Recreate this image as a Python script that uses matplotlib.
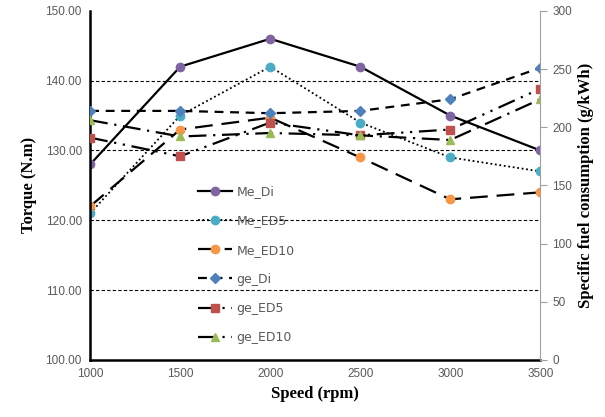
import matplotlib
matplotlib.use('Agg')
import matplotlib.pyplot as plt
import numpy as np

speed = [1000, 1500, 2000, 2500, 3000, 3500]

# torque (N.m), left axis
me_di = [128.0, 142.0, 146.0, 142.0, 135.0, 130.0]
me_ed5 = [121.0, 135.0, 142.0, 134.0, 129.0, 127.0]
me_ed10 = [122.0, 133.0, 134.7, 129.0, 123.0, 124.0]

# specific fuel consumption (g/kWh), right axis
ge_di = [214, 214, 212, 214, 224, 251]
ge_ed5 = [191, 175, 204, 193, 198, 233]
ge_ed10 = [206, 192, 195, 193, 189, 224]

tick_col = '#595959'
serif = 'Liberation Serif'

fig = plt.figure(figsize=(6.05, 4.17), dpi=100)
ax = fig.add_axes([0.149, 0.137, 0.744, 0.837])
ax2 = ax.twinx()

lw = 1.6
ms = 6
h1, = ax.plot(speed, me_di, color='black', lw=lw, marker='o', ms=ms,
              mfc='#8064A2', mec='#8064A2', label='Me_Di')
h2, = ax.plot(speed, me_ed5, color='black', lw=1.3, ls=(0, (1, 1.5)), marker='o', ms=ms,
              mfc='#4BACC6', mec='#4BACC6', label='Me_ED5')
h3, = ax.plot(speed, me_ed10, color='black', lw=lw, ls=(0, (8, 4)), marker='o', ms=ms,
              mfc='#F79646', mec='#F79646', label='Me_ED10')

h4, = ax2.plot(speed, ge_di, color='black', lw=lw, ls=(0, (4, 3)), marker='D', ms=5,
               mfc='#4F81BD', mec='#4F81BD', label='ge_Di')
h5, = ax2.plot(speed, ge_ed5, color='black', lw=lw, ls=(0, (8, 3, 1, 3, 1, 3)), marker='s', ms=ms,
               mfc='#C0504D', mec='#C0504D', label='ge_ED5')
h6, = ax2.plot(speed, ge_ed10, color='black', lw=lw, ls=(0, (8, 3, 1, 3)), marker='^', ms=ms,
               mfc='#9BBB59', mec='#9BBB59', label='ge_ED10')

ax.set_xlim(1000, 3500)
ax.set_ylim(100, 150)
ax2.set_ylim(0, 300)
ax.set_xticks(speed)
ax.set_yticks(np.arange(100, 151, 10))
ax.set_yticklabels(['%.2f' % v for v in np.arange(100, 151, 10)])
ax2.set_yticks(np.arange(0, 301, 50))

for y in [110, 120, 130, 140]:
    ax.axhline(y, color='black', ls=(0, (3, 2)), lw=0.8, zorder=0)

for a in (ax, ax2):
    a.tick_params(labelsize=8.5, colors=tick_col, labelcolor=tick_col)
    for lab in a.get_xticklabels() + a.get_yticklabels():
        lab.set_fontfamily('Liberation Sans')
ax.tick_params(axis='y', length=0, pad=6)
ax.tick_params(axis='x', length=0, pad=6)
ax2.tick_params(axis='y', length=5, direction='out', color='#a0a0a0')

ax.spines['top'].set_visible(False)
ax2.spines['top'].set_visible(False)
ax.spines['left'].set_linewidth(1.8)
ax.spines['bottom'].set_linewidth(1.8)
ax2.spines['left'].set_visible(False)
ax2.spines['bottom'].set_visible(False)
ax2.spines['right'].set_color('#a0a0a0')
ax.spines['right'].set_visible(False)

ax.set_xlabel('Speed (rpm)', fontsize=12, fontweight='bold', family=serif, labelpad=4)
ax.set_ylabel('Torque (N.m)', fontsize=12, fontweight='bold', family=serif, labelpad=6)
ax2.set_ylabel('Specific fuel consumption (g/kWh)', fontsize=12, fontweight='bold',
               family=serif, labelpad=4)

leg = ax2.legend(handles=[h1, h2, h3, h4, h5, h6], loc='upper left',
                 bbox_to_anchor=(0.229, 0.515), frameon=False, fontsize=9,
                 labelspacing=1.3, handlelength=2.7, handletextpad=0.35,
                 borderaxespad=0)
for t in leg.get_texts():
    t.set_color(tick_col)

fig.savefig('out.png', dpi=100)
